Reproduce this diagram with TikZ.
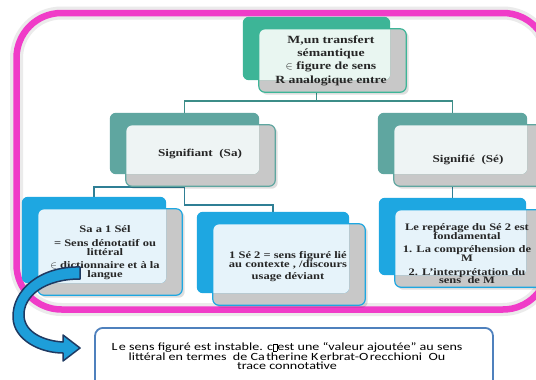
\documentclass[tikz,border=0pt]{standalone}
\usepackage{fontspec}
\setmainfont{Liberation Serif}[FakeStretch=1.25]
\newfontfamily\notefont{Carlito}[FakeStretch=1.28]
\usetikzlibrary{calc,backgrounds}
\newcommand\tightlines{\lineskiplimit-20pt\relax}
\definecolor{framec}{HTML}{F03CC8}
\definecolor{tealA}{HTML}{3DB597}
\definecolor{mintA}{HTML}{E9F6F1}
\definecolor{tealB}{HTML}{5FA6A0}
\definecolor{paleB}{HTML}{EEF4F4}
\definecolor{blueC}{HTML}{1EA7E1}
\definecolor{paleC}{HTML}{E6F3FA}
\definecolor{shadec}{HTML}{C8C8C8}
\definecolor{linkA}{HTML}{3C8D88}
\definecolor{linkB}{HTML}{2F7F95}
\definecolor{arrowfill}{HTML}{1E9ED9}
\definecolor{arrowline}{HTML}{1F3A62}
\definecolor{noteline}{HTML}{4F81BD}
\newcommand\layerbox[7]{%
  \node[shape=rectangle, inner sep=0pt, minimum width=#6pt, minimum height=#7pt] (#1) at (#4+16,#5+12) {};
  \node[shape=rectangle, inner sep=0pt, minimum width=#6pt, minimum height=#7pt] (#1-back) at (#4,#5) {};
  \fill[black, opacity=.13, rounded corners=6pt] ($(#1.south west)+(2.5,2.5)$) rectangle ($(#1.north east)+(2.5,2.5)$);
  \fill[shadec, rounded corners=6pt] (#1.south west) rectangle (#1.north east);
  \fill[#2, rounded corners=6pt] (#1-back.south west) rectangle (#1-back.north east);
  \begin{scope}
    \clip[rounded corners=6pt] (#1-back.south west) rectangle (#1-back.north east);
    \fill[#3, rounded corners=6pt] (#1.south west) rectangle (#1.north east);
  \end{scope}
  \draw[#2, line width=1.2pt, rounded corners=6pt] (#1.south west) rectangle (#1.north east);
}
\begin{document}
\begin{tikzpicture}[x=1pt, y=-1pt,
  link/.style={draw=linkA, line width=1.4pt},
  linkb/.style={draw=linkB, line width=1.4pt},
  label/.style={align=center, inner sep=0pt, text=black!85},
  topfont/.style={font=\fontsize{11}{13.3}\selectfont\bfseries\tightlines},
  midfont/.style={font=\fontsize{10.5}{12}\selectfont\bfseries},
  lowfont/.style={font=\fontsize{10}{9}\selectfont\bfseries\tightlines},
  lowfontb/.style={font=\fontsize{10}{8.5}\selectfont\bfseries\tightlines}]
\useasboundingbox (0,0) rectangle (536,380);

\begin{pgfonlayer}{background}
  \fill[white] (0,0) rectangle (536,380);
  \draw[black!8, line width=13pt, rounded corners=45pt] (16.5,13) rectangle (548,309.5);
  \draw[framec, line width=6.5pt, rounded corners=45pt] (16.5,13) rectangle (548,309.5);
\end{pgfonlayer}

% boxes: name, colour, pale, back-centre x, y, width, height
\layerbox{top}{tealA}{mintA}{316.5}{48.5}{147}{63}
\layerbox{sa2}{tealB}{paleB}{184.5}{143.5}{149}{61}
\layerbox{se2}{tealB}{paleB}{452.5}{143.5}{149}{61}
\layerbox{sa3}{blueC}{paleC}{94}{240}{144}{86}
\layerbox{sx3}{blueC}{paleC}{273}{252.5}{152}{81}
\layerbox{se3}{blueC}{paleC}{452.5}{236.5}{147}{77}

\coordinate (j1) at (0,101);
\coordinate (j2) at (0,187);
\coordinate (j3) at (0,205);
\begin{pgfonlayer}{background}
  \draw[link] (top-back.center) -- (top-back.center |- j1) -| (sa2-back.center);
  \draw[link] (top-back.center |- j1) -| (se2-back.center);
  \draw[linkb] (sa2-back.center) -- (sa2-back.center |- j2) -| (sa3-back.center);
  \draw[linkb] (sa2-back.center |- j2) -- (sa2-back.center |- j3) -| (sx3-back.center);
  \draw[linkb] (se2-back.center) -- (se3-back.center);
\end{pgfonlayer}

\node[label, topfont] (top-text) at (331,60.5) {M,un transfert\\sémantique\\$\in$ figure de sens\\R analogique entre};
\node[label, midfont] (sa2-text) at (200,154) {Signifiant\ \ (Sa)};
\node[label, midfont] (se2-text) at (468,160) {Signifié\ \ (Sé)};
\node[label, lowfont] (sa3-text) at (105,252.5) {Sa a 1 Sél\\[4.5pt]= Sens dénotatif ou\\littéral\\[4pt]$\in$ dictionnaire et à la\\langue};
\node[label, font=\fontsize{10}{8.5}\selectfont\bfseries\tightlines] (sx3-text) at (288,266.5) {1 Sé 2 = sens figuré lié\\au contexte , /discours\\[3.5pt]usage déviant};
\node[label, lowfontb] (se3-text) at (467,254) {Le repérage du Sé 2 est\\fondamental\\[5pt]1. La compréhension de\\M\\[5.5pt]2. L'interprétation du\\sens\ \ de M};

% curved block arrow
\filldraw[fill=arrowfill, draw=arrowline, line width=1.5pt, line join=round]
  (80,267) .. controls (40,266) and (12,290) .. (13,318)
  .. controls (14,340) and (40,353) .. (63,353) -- (63,361) -- (80,348) -- (63,335) -- (63,342)
  .. controls (45,341) and (25,333) .. (24,316)
  .. controls (23,296) and (45,279) .. (80,279) -- cycle;

% note box
\node[draw=noteline, line width=1.8pt, rounded corners=8pt, fill=white, minimum width=398pt, minimum height=75pt, anchor=north] (note) at (294,327) {};
\node[align=center, inner sep=0pt, font=\notefont\fontsize{11}{9.5}\selectfont\tightlines] (note-text) at (287,356.5)
 {L\kern1.5pt e sens figuré est instable. c{\fboxsep=0pt\fboxrule=0.4pt\fbox{\rule{0pt}{6.5pt}\hspace{3.5pt}}}est une “valeur ajoutée” au sens\\littéral en termes\ \ de Ca\kern1.5pt therine K\kern1.5pt erbrat-O\kern1.5pt recchioni\ \ Ou\\trace connotative};
\end{tikzpicture}
\end{document}
